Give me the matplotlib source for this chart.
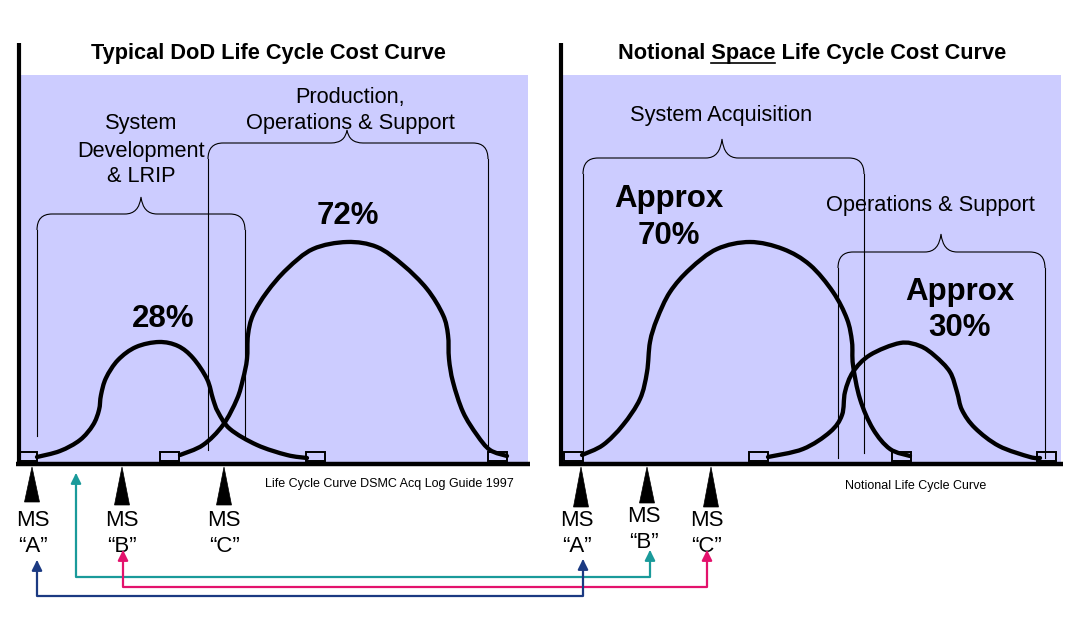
import numpy as np
import matplotlib
matplotlib.use("Agg")
import matplotlib.pyplot as plt
from matplotlib.path import Path
from matplotlib.patches import PathPatch, Rectangle, Polygon, FancyArrowPatch

plt.rcParams['font.family'] = ['Liberation Sans', 'DejaVu Sans']

# ---- data (pixel space of the 1081x623 slide) ----
# left panel: typical DoD curves
dev_curve_x = [37, 60, 80, 93, 99, 101, 106, 118, 136, 159, 178, 193, 207, 213, 218, 230, 257, 287, 307]
dev_curve_y = [457, 451, 440, 425, 410, 395, 378, 360, 347, 342, 346, 358, 379, 399, 412, 429, 445, 455, 458]
prod_curve_x = [180, 203, 223, 237, 243, 247, 248, 253, 267, 287, 313, 347, 377, 403, 427, 443, 448, 449, 453, 463, 477, 490, 507]
prod_curve_y = [455, 445, 425, 399, 379, 359, 335, 315, 292, 269, 249, 242, 247, 265, 289, 315, 335, 359, 382, 412, 435, 450, 456]
# right panel: notional space curves
acq_curve_x = [582, 603, 623, 640, 647, 650, 657, 670, 690, 717, 750, 783, 810, 833, 847, 852, 853, 860, 873, 890, 910]
acq_curve_y = [455, 445, 425, 399, 372, 342, 319, 292, 269, 249, 242, 249, 265, 292, 319, 342, 365, 399, 429, 449, 456]
ops_curve_x = [768, 803, 830, 842, 845, 853, 870, 900, 920, 935, 950, 957, 962, 975, 999, 1030, 1040]
ops_curve_y = [457, 449, 432, 415, 392, 372, 355, 343, 346, 356, 372, 392, 410, 428, 446, 457, 458]

square_x = [27.5, 169.5, 315.5, 497.5, 573, 758.5, 901.5, 1046.5]

# brackets: left end, right end, bar level, tip x, tip y, bottom of the drop lines
brace_x0 = [37, 208, 583, 838]
brace_x1 = [245, 488, 864, 1045]
brace_y = [214, 143, 158, 252]
brace_tip_x = [141, 347, 722, 941]
brace_tip_y = [197, 130, 139, 234]
brace_bottom = [436, 450, 453, 458]

# milestones
ms_labels = ['A', 'B', 'C', 'A', 'B', 'C']
ms_x = [32, 122, 224, 581, 647, 711]
ms_base = [502, 505, 505, 507, 503, 507]
ms_text_x = [33, 122, 224, 577, 644, 707]
ms_text_y = [520, 520, 520, 520, 517, 520]

# cross-links between the two milestone sets
link_colors = ['#1a9a9a', '#e3126c', '#1b3a82']
link_x0 = [76, 123, 37]
link_tip0 = [473, 550, 560]
link_x1 = [650, 707, 583]
link_tip1 = [550, 550, 559]
link_level = [577, 587, 596]

lavender = '#ccccff'

fig = plt.figure(figsize=(10.81, 6.23), dpi=100)
ax = fig.add_axes([0, 0, 1, 1])
ax.set_xlim(0, 1081)
ax.set_ylim(623, 0)
ax.axis('off')


def smooth(xs, ys):
    # catmull-rom through the read points, handed to matplotlib as bezier segments
    pts = np.column_stack([xs, ys]).astype(float)
    n = len(pts)
    verts = [pts[0]]
    codes = [Path.MOVETO]
    for i in range(n - 1):
        p0 = pts[max(i - 1, 0)]
        p1 = pts[i]
        p2 = pts[i + 1]
        p3 = pts[min(i + 2, n - 1)]
        verts += [p1 + (p2 - p0) / 6, p2 - (p3 - p1) / 6, p2]
        codes += [Path.CURVE4] * 3
    return Path(verts, codes)


def brace(x0, x1, y, xt, yt, r=15, drop=16, rm=16):
    verts = [(x0, y + drop), (x0, y), (x0 + r, y),
             (xt - rm, y), (xt - 2, y), (xt, yt),
             (xt + 2, y), (xt + rm, y),
             (x1 - r, y), (x1, y), (x1, y + drop)]
    codes = [Path.MOVETO, Path.CURVE3, Path.CURVE3,
             Path.LINETO, Path.CURVE3, Path.CURVE3,
             Path.CURVE3, Path.CURVE3,
             Path.LINETO, Path.CURVE3, Path.CURVE3]
    return Path(verts, codes)


# panel backgrounds and axes
ax.add_patch(Rectangle((21, 75), 507, 387, facecolor=lavender, edgecolor='none', zorder=0))
ax.add_patch(Rectangle((563, 75), 498, 387, facecolor=lavender, edgecolor='none', zorder=0))
for x0, x1, xv in [(16, 530, 19), (559, 1063, 561)]:
    ax.plot([x0, x1], [464, 464], color='black', lw=3.2, solid_capstyle='butt', zorder=5)
    ax.plot([xv, xv], [43, 466], color='black', lw=3.0, solid_capstyle='butt', zorder=5)

# brackets
for x0, x1, y, xt, yt, yb in zip(brace_x0, brace_x1, brace_y, brace_tip_x, brace_tip_y, brace_bottom):
    ax.add_patch(PathPatch(brace(x0, x1, y, xt, yt), facecolor='none', edgecolor='black', lw=0.8, zorder=2))
    ax.plot([x0, x0], [y + 16, yb], color='black', lw=0.8, zorder=2)
    ax.plot([x1, x1], [y + 16, yb], color='black', lw=0.8, zorder=2)

# cost curves
for xs, ys in [(dev_curve_x, dev_curve_y), (prod_curve_x, prod_curve_y),
               (acq_curve_x, acq_curve_y), (ops_curve_x, ops_curve_y)]:
    ax.add_patch(PathPatch(smooth(xs, ys), facecolor='none', edgecolor='black', lw=3.1,
                           capstyle='round', joinstyle='round', zorder=3))

# milestone boxes on the baseline
for sx in square_x:
    ax.add_patch(Rectangle((sx - 9.5, 452), 19, 9, facecolor='none', edgecolor='black', lw=1.4, zorder=4))

# titles
ax.text(268, 53, 'Typical DoD Life Cycle Cost Curve', ha='center', va='center',
        fontsize=15.7, fontweight='bold')
right_title = ax.text(812, 53, 'Notional Space Life Cycle Cost Curve', ha='center', va='center',
                      fontsize=15.7, fontweight='bold')
fig.canvas.draw()
rend = fig.canvas.get_renderer()
full_w = right_title.get_window_extent(rend).width
probe = ax.text(0, 0, 'Notional Space', fontsize=15.7, fontweight='bold')
upto_w = probe.get_window_extent(rend).width
probe.set_text('Space')
space_w = probe.get_window_extent(rend).width
probe.remove()
ul_end = 812 - full_w / 2 + upto_w
ax.plot([ul_end - space_w, ul_end], [63, 63], color='black', lw=1.2)

# phase labels
lab_fs = 15.7
ax.text(141, 124, 'System', ha='center', va='center', fontsize=lab_fs)
ax.text(141, 151, 'Development', ha='center', va='center', fontsize=lab_fs)
ax.text(141, 177, '& LRIP', ha='center', va='center', fontsize=lab_fs)
ax.text(350, 98, 'Production,', ha='center', va='center', fontsize=lab_fs)
ax.text(350, 124, 'Operations & Support', ha='center', va='center', fontsize=lab_fs)
ax.text(721, 115, 'System Acquisition', ha='center', va='center', fontsize=lab_fs)
ax.text(930, 205, 'Operations & Support', ha='center', va='center', fontsize=lab_fs)

# cost shares
big_fs = 22.5
ax.text(348, 216, '72%', ha='center', va='center', fontsize=big_fs, fontweight='bold')
ax.text(163, 319, '28%', ha='center', va='center', fontsize=big_fs, fontweight='bold')
ax.text(669, 199, 'Approx', ha='center', va='center', fontsize=big_fs, fontweight='bold')
ax.text(669, 236, '70%', ha='center', va='center', fontsize=big_fs, fontweight='bold')
ax.text(960, 292, 'Approx', ha='center', va='center', fontsize=big_fs, fontweight='bold')
ax.text(960, 328, '30%', ha='center', va='center', fontsize=big_fs, fontweight='bold')

# sources
ax.text(265, 484, 'Life Cycle Curve DSMC Acq Log Guide 1997', ha='left', va='center', fontsize=9)
ax.text(845, 486, 'Notional Life Cycle Curve', ha='left', va='center', fontsize=9)

# milestone markers
for lab, mx, mb, tx, ty in zip(ms_labels, ms_x, ms_base, ms_text_x, ms_text_y):
    ax.add_patch(Polygon([(mx, 467), (mx - 7.5, mb), (mx + 7.5, mb)], closed=True,
                         facecolor='black', edgecolor='black', lw=0.5))
    ax.text(tx, ty, 'MS', ha='center', va='center', fontsize=16)
    ax.text(tx, ty + 26, '\u201c' + lab + '\u201d', ha='center', va='center', fontsize=16)

# links between milestones
for c, x0, t0, x1, t1, lv in zip(link_colors, link_x0, link_tip0, link_x1, link_tip1, link_level):
    p = Path([(x0, t0), (x0, lv), (x1, lv), (x1, t1)],
             [Path.MOVETO, Path.LINETO, Path.LINETO, Path.LINETO])
    ax.add_patch(FancyArrowPatch(path=p, arrowstyle='<|-|>,head_length=0.6,head_width=0.3',
                                 mutation_scale=10, color=c, lw=1.6, zorder=6))

fig.savefig('out.png', dpi=100)
